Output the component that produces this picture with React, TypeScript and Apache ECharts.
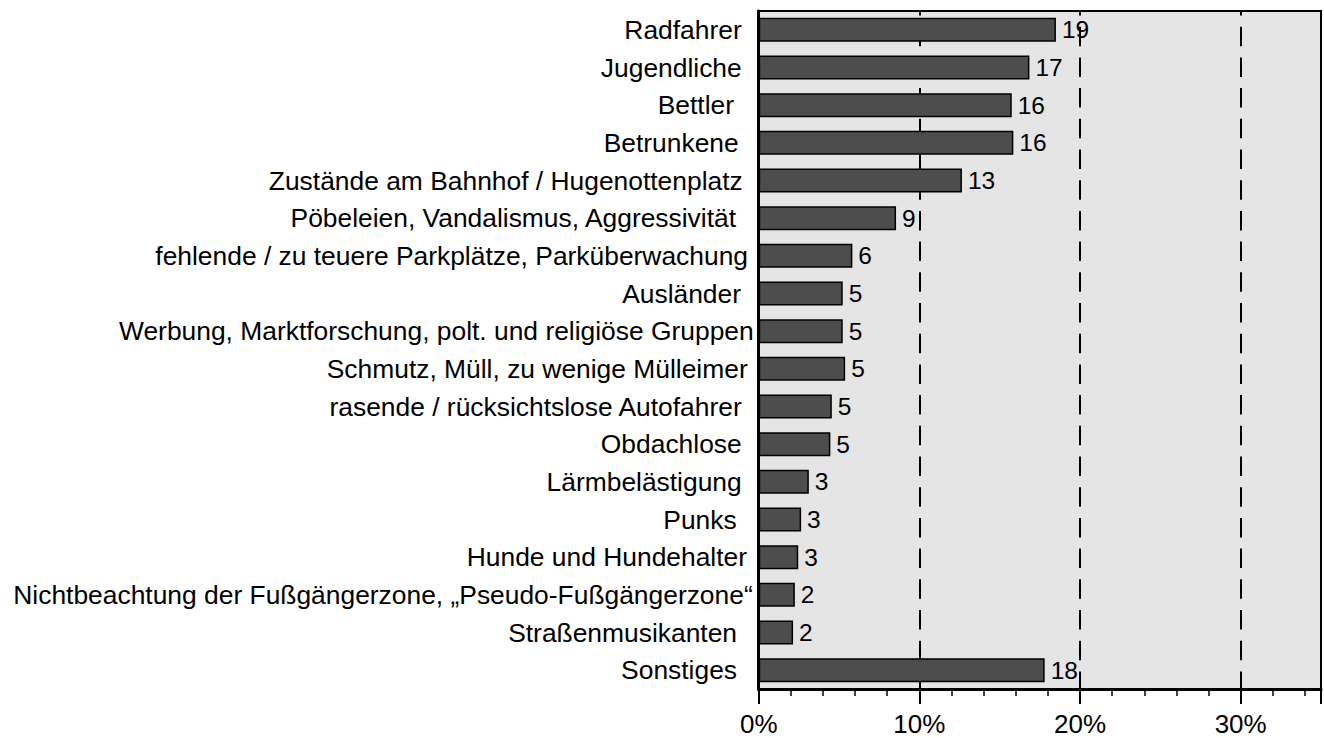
import React, { useEffect, useRef } from "react";
import * as echarts from "echarts";

const categories = [
  "Radfahrer",
  "Jugendliche",
  "Bettler",
  "Betrunkene",
  "Zustände am Bahnhof / Hugenottenplatz",
  "Pöbeleien, Vandalismus, Aggressivität",
  "fehlende / zu teuere Parkplätze, Parküberwachung",
  "Ausländer",
  "Werbung, Marktforschung, polt. und religiöse Gruppen",
  "Schmutz, Müll, zu wenige Mülleimer",
  "rasende / rücksichtslose Autofahrer",
  "Obdachlose",
  "Lärmbelästigung",
  "Punks",
  "Hunde und Hundehalter",
  "Nichtbeachtung der Fußgängerzone, \u201EPseudo-Fußgängerzone\u201C",
  "Straßenmusikanten",
  "Sonstiges",
];

// bar lengths in percent
const shares = [
  18.5, 16.85, 15.75, 15.85, 12.65, 8.55, 5.83, 5.23, 5.23, 5.38, 4.55, 4.46,
  3.12, 2.64, 2.46, 2.25, 2.14, 17.8,
];

// printed value labels
const counts = [19, 17, 16, 16, 13, 9, 6, 5, 5, 5, 5, 5, 3, 3, 3, 2, 2, 18];

const FONT = "'Liberation Sans', Arial, sans-serif";

export default function App() {
  const ref = useRef<HTMLDivElement>(null);

  useEffect(() => {
    if (!ref.current) return;
    const chart = echarts.init(ref.current, null, { renderer: "svg" });

    // label distance from the axis (style only)
    const labelGap = [17, 17, 24.7, 20, 16, 22.7, 10.7, 17.7, 5, 11, 17, 17, 17, 22, 11.7, 6, 21.7, 21.7];
    const rich: Record<string, any> = {};
    labelGap.forEach((g, i) => {
      rich["a" + i] = {
        fontSize: 26.4,
        fontFamily: FONT,
        color: "#000",
        padding: [0, Math.max(0, g - 5), 0, 0],
      };
    });

    const option: any = {
      animation: false,
      grid: {
        left: 758.7,
        top: 11,
        width: 567,
        height: 678,
        show: true,
        backgroundColor: "#e5e5e5",
        borderColor: "#000",
        borderWidth: 2,
        containLabel: false,
      },
      xAxis: [
        {
          type: "value",
          min: 0,
          max: 35,
          interval: 10,
          axisLine: { show: true, lineStyle: { color: "#000", width: 3 } },
          axisTick: { show: true, length: 15, lineStyle: { color: "#000", width: 2 } },
          axisLabel: {
            margin: 22,
            fontSize: 26,
            color: "#000",
            fontFamily: FONT,
            formatter: (v: number) => (v % 10 === 0 ? v + "%" : ""),
          },
          splitLine: {
            show: true,
            lineStyle: { color: "#000", width: 2, type: [19.5, 11.2], dashOffset: 15.4 },
          },
        },
        {
          type: "value",
          min: 0,
          max: 35,
          interval: 2,
          position: "bottom",
          axisLine: { show: false },
          axisTick: { show: true, length: 7, lineStyle: { color: "#000", width: 1.5 } },
          axisLabel: { show: false },
          splitLine: { show: false },
        },
      ],
      yAxis: {
        type: "category",
        inverse: true,
        data: categories,
        axisLine: { show: true, lineStyle: { color: "#000", width: 3 } },
        axisTick: { show: false },
        splitLine: { show: false },
        axisLabel: {
          margin: 5,
          fontSize: 26.4,
          color: "#000",
          fontFamily: FONT,
          formatter: (value: string, index: number) => `{a${index}|${value}}`,
          rich,
        },
      },
      series: [
        {
          type: "bar",
          xAxisIndex: 0,
          data: shares,
          barWidth: 24,
          itemStyle: { color: "#4d4d4d", borderColor: "#000", borderWidth: 1.5 },
          label: {
            show: true,
            position: "right",
            distance: 6,
            fontSize: 24.5,
            color: "#000",
            fontFamily: FONT,
            formatter: (p: any) => String(counts[p.dataIndex]),
          },
        },
      ],
    };

    chart.setOption(option);
    return () => chart.dispose();
  }, []);

  return (
    <div
      ref={ref}
      style={{ position: "absolute", left: 0, top: 0, width: 1324, height: 738, background: "#fff" }}
    />
  );
}
